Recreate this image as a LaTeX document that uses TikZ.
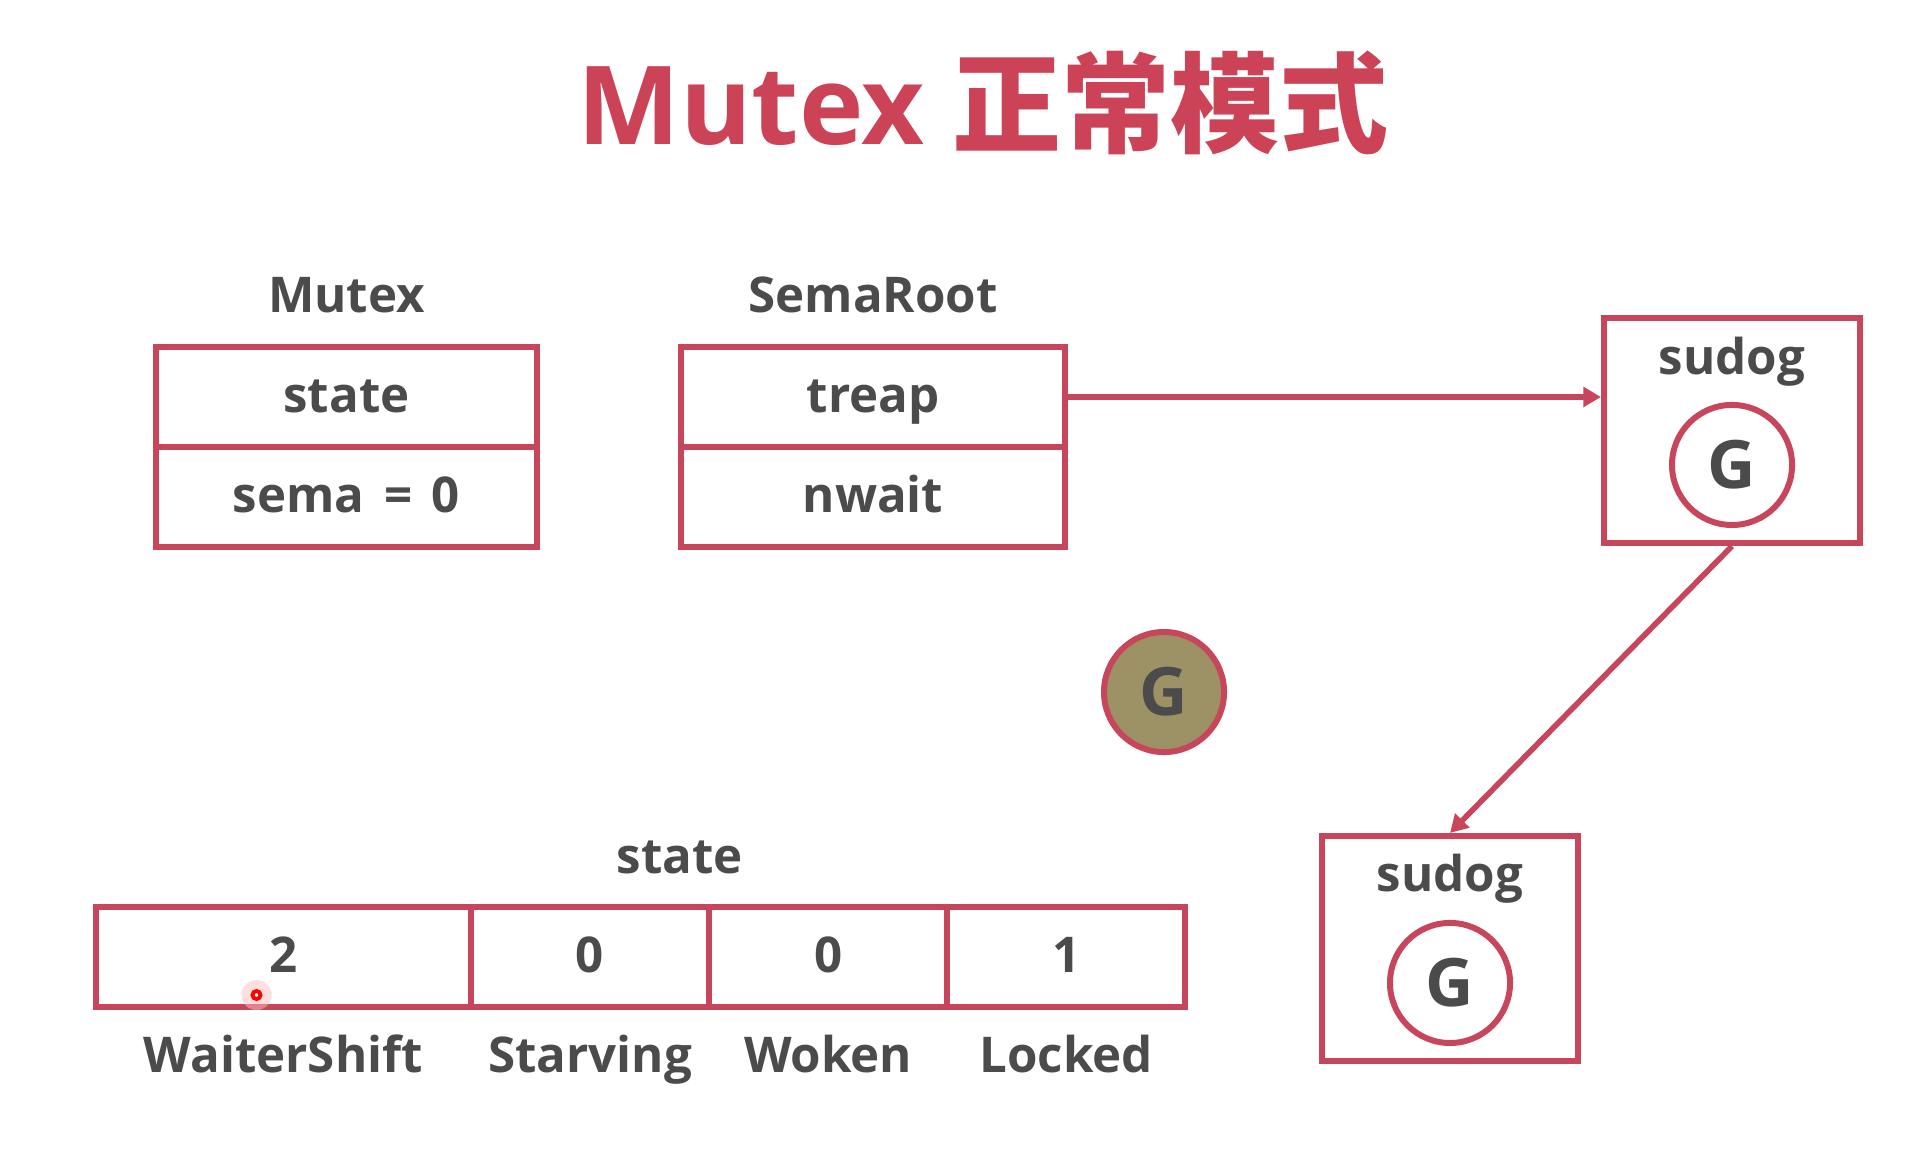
\documentclass[tikz,border=0pt]{standalone}
\usepackage{fontspec}
\setmainfont{Open Sans}
\newfontfamily\cjk{Noto Sans CJK SC}
\usetikzlibrary{arrows.meta, positioning, matrix, calc}
\definecolor{linered}{HTML}{C8465B}
\definecolor{titlered}{HTML}{CC4357}
\definecolor{txtgray}{HTML}{4B4B4B}
\definecolor{gold}{HTML}{9D9265}

\begin{document}
\begin{tikzpicture}[x=0.01cm, y=-0.01cm, node distance=0.5cm,
    lbl/.style={font=\fontsize{14}{17}\selectfont\bfseries, text=txtgray},
    under/.style={lbl, text height=11pt, text depth=3pt},
    reg/.style={matrix of nodes, ampersand replacement=\&, line width=1.7pt,
        nodes={draw=linered, lbl, text height=11.5pt, text depth=2.5pt, minimum height=1cm, anchor=center},
        column sep=-\pgflinewidth, row sep=-\pgflinewidth},
    gnode/.style={circle, draw=linered, line width=1.7pt, minimum size=1.2cm, inner sep=0pt,
        font=\fontsize{19}{22}\selectfont\bfseries, text=txtgray},
    sudogbox/.style={draw=linered, line width=1.7pt, minimum width=2.56cm, minimum height=2.25cm},
    arr/.style={draw=linered, line width=1.6pt, -{Triangle[length=5pt, width=5.5pt]}}
]
    \fill[white] (0,0) rectangle (1916,1166);
    \useasboundingbox (0,0) rectangle (1916,1166);

    \node[font=\fontsize{31}{36}\selectfont\bfseries, text=titlered] (title) at (983,103) {Mutex {\cjk 正常模式}};

    \matrix[reg, nodes={minimum width=3.81cm}] (M) at (346.5,447) { state \\ sema\hspace{0.4em}=\hspace{0.4em}0 \\ };
    \node[lbl, above=1pt of M] (mutexlbl) {Mutex};
    \matrix[reg, nodes={minimum width=3.83cm}] (S) at (873,447) { treap \\ nwait \\ };
    \node[lbl, above=1pt of S] (rootlbl) {SemaRoot};

    \node[sudogbox] (sudogA) at (1732,430.5) {};
    \node[lbl] (sudogAlbl) at ($(sudogA.north)+(0,47)$) {sudog};
    \node[gnode] (gA) at ($(sudogA.north)+(0,150)$) {G};
    \node[sudogbox] (sudogB) at (1450,948.5) {};
    \node[lbl] (sudogBlbl) at ($(sudogB.north)+(0,46)$) {sudog};
    \node[gnode] (gB) at ($(sudogB.north)+(0,150)$) {G};
    \draw[arr] (S-1-1.east) -- (S-1-1 -| sudogA.west);
    \draw[arr] (sudogA.south) -- (sudogB.north);

    \node[gnode, fill=gold] (gRun) at (1164,692) {G};

    \node[lbl] (statelbl) at (680,857) {state};
    \matrix[reg, nodes={minimum width=2.38cm}, column 1/.style={nodes={minimum width=3.75cm}}] (B) at (640.5,957)
        { 2 \& 0 \& 0 \& 1 \\ };
    \node[under, below=3.2pt of B-1-1] (shift) {WaiterShift};
    \node[under, below=3.2pt of B-1-2] (starving) {Starving};
    \node[under, below=3.2pt of B-1-3] (woken) {Woken};
    \node[under, below=3.2pt of B-1-4] (locked) {Locked};

    \fill[red!25, opacity=0.5] (256.5,995) circle (15);
    \node[circle, draw=red, line width=1.1pt, fill=white, minimum size=0.08cm, inner sep=0pt] (ptr) at (256.5,995) {};
\end{tikzpicture}
\end{document}
